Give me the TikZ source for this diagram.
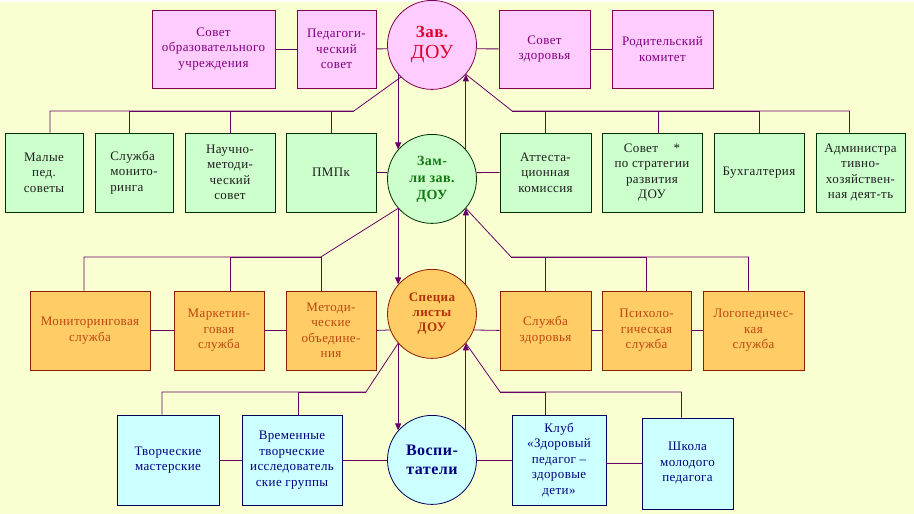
\documentclass[tikz,border=0pt]{standalone}
\usepackage{fontspec}
\setmainfont[LetterSpace=3]{Liberation Serif}
\usetikzlibrary{arrows.meta}
\definecolor{bgcol}{RGB}{250,255,210}
\definecolor{linkcol}{RGB}{102,0,102}
\definecolor{pinkfill}{RGB}{255,204,255}
\definecolor{pinkline}{RGB}{128,0,80}
\definecolor{pinktext}{RGB}{128,0,128}
\definecolor{greenfill}{RGB}{204,255,204}
\definecolor{greenline}{RGB}{0,50,0}
\definecolor{greentext}{RGB}{30,30,30}
\definecolor{orangefill}{RGB}{255,204,102}
\definecolor{orangeline}{RGB}{140,30,0}
\definecolor{orangetext}{RGB}{190,70,15}
\definecolor{bluefill}{RGB}{204,255,255}
\definecolor{blueline}{RGB}{0,0,90}
\definecolor{bluetext}{RGB}{0,0,128}
\begin{document}
\begin{tikzpicture}[x=1pt,y=-1pt,
  box/.style={draw,rectangle,align=center,inner sep=2pt,line width=0.8pt,font=\fontsize{13}{15.5}\selectfont},
  pinkbox/.style={box,fill=pinkfill,draw=pinkline,text=pinktext,minimum height=78},
  greenbox/.style={box,fill=greenfill,draw=greenline,text=greentext,minimum height=79},
  orangebox/.style={box,fill=orangefill,draw=orangeline,text=orangetext,minimum height=79},
  bluebox/.style={box,fill=bluefill,draw=blueline,text=bluetext,minimum height=90},
  ring/.style={circle,draw,minimum size=89,inner sep=0,line width=0.8pt,align=center},
  link/.style={draw=linkcol,line width=0.8pt},
  arrowlink/.style={link,-{Triangle[length=7pt,width=6pt]}}]
\fill[bgcol] (0,0) rectangle (914,512);

\node[ring,fill=pinkfill,draw=pinkline,text={rgb,255:red,225;green,0;blue,40},
  font=\fontsize{17}{21}\selectfont\bfseries] (zav) at (432,43)
  {Зав.\\\mdseries\fontsize{20}{21}\selectfont ДОУ};
\node[ring,fill=greenfill,draw=greenline,text={rgb,255:red,20;green,120;blue,20},
  font=\fontsize{14}{17}\selectfont\bfseries] (zam) at (432,177) {Зам-\\ли зав.\\ДОУ};
\node[ring,fill=orangefill,draw=orangeline,text={rgb,255:red,180;green,50;blue,10},
  font=\fontsize{13}{15}\selectfont\bfseries] (spec) at (432,312) {Специа\\листы\\ДОУ};
\node[ring,fill=bluefill,draw=blueline,text=bluetext,
  font=\fontsize{16}{19}\selectfont\bfseries] (vosp) at (432,458) {Воспи-\\татели};

\node[pinkbox,minimum width=123] (sovet-ou) at (213.5,47) {Совет\\образовательного\\учреждения};
\node[pinkbox,minimum width=79] (ped-sovet) at (336.5,47) {Педагоги-\\ческий\\совет};
\node[pinkbox,minimum width=91] (sovet-zd) at (544.5,47) {Совет\\здоровья};
\node[pinkbox,minimum width=101] (rod-kom) at (662.5,47) {Родительский\\комитет};

\node[greenbox,minimum width=78] (malye) at (44,170.5) {Малые\\пед.\\советы};
\node[greenbox,minimum width=78,align=left] (monit-sl) at (134,170.5) {Служба\\монито-\\ринга};
\node[greenbox,minimum width=90] (nauch) at (230,170.5) {Научно-\\методи-\\ческий\\совет};
\node[greenbox,minimum width=90] (pmpk) at (331,170.5) {ПМПк};
\node[greenbox,minimum width=91] (attest) at (545.5,170.5) {Аттеста-\\ционная\\комиссия};
\node[greenbox,minimum width=100] (strateg) at (652,170.5) {Совет\hspace{1.2em}*\\по стратегии\\развития\\ДОУ};
\node[greenbox,minimum width=90] (buh) at (759,170.5) {Бухгалтерия};
\node[greenbox,minimum width=89] (admin) at (860.5,170.5) {Администра\\тивно-\\хозяйствен-\\ная деят-ть};

\node[orangebox,minimum width=120] (monitoring) at (90,328.5) {Мониторинговая\\служба};
\node[orangebox,minimum width=90] (marketing) at (219,328.5) {Маркетин-\\говая\\служба};
\node[orangebox,minimum width=90] (metod) at (331,328.5) {Методи-\\ческие\\объедине-\\ния};
\node[orangebox,minimum width=91] (zdorovie) at (545.5,328.5) {Служба\\здоровья};
\node[orangebox,minimum width=89] (psih) at (646.5,328.5) {Психоло-\\гическая\\служба};
\node[orangebox,minimum width=101] (logo) at (753.5,328.5) {Логопедичес-\\кая\\служба};

\node[bluebox,minimum width=102] (tvorch) at (168,458) {Творческие\\мастерские};
\node[bluebox,minimum width=100] (vrem) at (292,458) {Временные\\творческие\\исследователь\\ские группы};
\node[bluebox,minimum width=94] (klub) at (559,458) {Клуб\\«Здоровый\\педагог –\\здоровые\\дети»};
\node[bluebox,minimum width=91,minimum height=91] (shkola) at (687.5,461.5) {Школа\\молодого\\педагога};

\coordinate (bus2-l) at (354,109);
\coordinate (bus2-r) at (512,109);
\coordinate (bus3-l) at (321,255);
\coordinate (bus3-r) at (511,255);
\coordinate (bus4-l) at (366,390);
\coordinate (bus4-r) at (500,390);

\draw[link] (sovet-ou) -- (ped-sovet);
\draw[link] (ped-sovet.east) -- (zav.185);
\draw[link] (zav.-5) -- (sovet-zd.west);
\draw[link] (sovet-zd) -- (rod-kom);

\draw[link] (zav.226) -- (bus2-l) -| ([xshift=6]malye.north);
\draw[link] ([xshift=-5]monit-sl.north) |- (bus2-l);
\draw[link] (nauch) |- (bus2-l);
\draw[link] (pmpk) |- (bus2-l);
\draw[link] (zav.319) -- (bus2-r) -| ([xshift=-11]admin.north);
\draw[link] (attest) |- (bus2-r);
\draw[link] ([xshift=6]strateg.north) |- (bus2-r);
\draw[link] (buh) |- (bus2-r);
\draw[link] (pmpk.east) -- (zam.172);
\draw[link] (zam.8) -- (attest.west);

\draw[link] (zam.221) -- (bus3-l) -| ([xshift=-6]monitoring.north);
\draw[link] ([xshift=11]marketing.north) |- (bus3-l);
\draw[link] ([xshift=-10]metod.north) |- (bus3-l);
\draw[link] (zam.319) -- (bus3-r) -| ([xshift=-5]logo.north);
\draw[link] (zdorovie) |- (bus3-r);
\draw[link] (psih) |- (bus3-r);
\draw[link] (monitoring) -- (marketing);
\draw[link] (marketing) -- (metod);
\draw[link] (metod.east) -- (spec.201);
\draw[link] (spec.-21) -- (zdorovie.west);
\draw[link] (zdorovie) -- (psih);
\draw[link] (psih) -- (logo);

\draw[link] (spec.221) -- (bus4-l) -| ([xshift=-6]tvorch.north);
\draw[link] ([xshift=6]vrem.north) |- (bus4-l);
\draw[link] (spec.319) -- (bus4-r) -| ([xshift=-6]shkola.north);
\draw[link] ([xshift=-14]klub.north) |- (bus4-r);
\draw[link] (tvorch) -- (vrem);
\draw[link] (vrem) -- (vosp);
\draw[link] (vosp) -- (klub);
\draw[link] (klub.east |- shkola) -- (shkola);

\draw[arrowlink] (zav.221) -- (zam.139);
\draw[arrowlink] (zam.41) -- (zav.319);
\draw[arrowlink] (zam.221) -- (spec.139);
\draw[arrowlink] (spec.41) -- (zam.319);
\draw[arrowlink] (spec.221) -- (vosp.139);
\draw[arrowlink] (vosp.41) -- (spec.319);
\end{tikzpicture}
\end{document}
